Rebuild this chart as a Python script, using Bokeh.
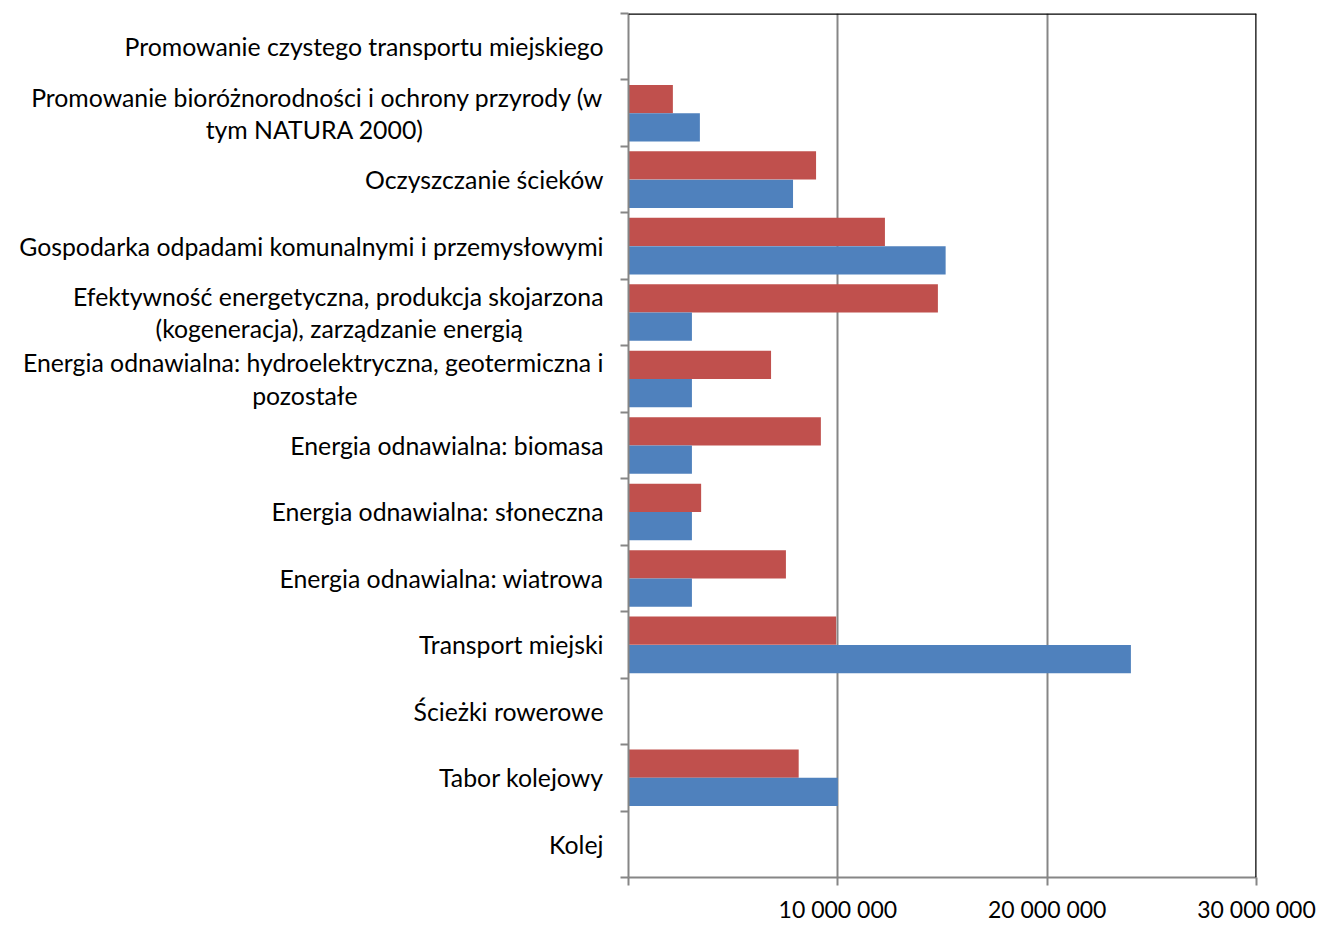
from bokeh.plotting import figure
from bokeh.models import Range1d, FixedTicker, Span, ColumnDataSource
from bokeh.embed import file_html
from bokeh.resources import INLINE

# Categories listed bottom -> top (as in the chart)
categories = [
    "Kolej",
    "Tabor kolejowy",
    "Ścieżki rowerowe",
    "Transport miejski",
    "Energia odnawialna: wiatrowa",
    "Energia odnawialna: słoneczna",
    "Energia odnawialna: biomasa",
    "Energia odnawialna: hydroelektryczna, geotermiczna i\npozostałe",
    "Efektywność energetyczna, produkcja skojarzona\n(kogeneracja), zarządzanie energią",
    "Gospodarka odpadami komunalnymi i przemysłowymi",
    "Oczyszczanie ścieków",
    "Promowanie bioróżnorodności i ochrony przyrody (w\ntym NATURA 2000)",
    "Promowanie czystego transportu miejskiego",
]
red_values = [0, 8.13e6, 0, 9.92e6, 7.52e6, 3.47e6, 9.19e6, 6.81e6, 14.78e6, 12.25e6, 8.96e6, 2.12e6, 0]
blue_values = [0, 10.0e6, 0, 24.0e6, 3.03e6, 3.03e6, 3.03e6, 3.03e6, 3.03e6, 15.15e6, 7.86e6, 3.41e6, 0]
x_ticks = [0, 10_000_000, 20_000_000, 30_000_000]
x_tick_labels = ["", "10 000 000", "20 000 000", "30 000 000"]

FONT = "Lato"
FS_Y = "24.8px"
FS_X = "23px"
GRAY = "#868686"
RED = "#C0504D"
BLUE = "#4F81BD"

# layout helper: padding after the short second line of wrapped labels,
# so that the wrapped line appears centred under the first one
EM, QUARTER, SIXTH, EN = "\u2003", "\u2005", "\u2006", "\u2002"
pad_second_line = {
    7: EM * 12 + EN + QUARTER + SIXTH,
    8: EM * 4 + QUARTER,
    11: EM * 9 + EN,
}

def label_text(i, cat):
    if "\n" in cat and i in pad_second_line:
        return cat + pad_second_line[i]
    return cat

n = len(categories)
centers = [i + 0.5 for i in range(n)]
boundaries = list(range(n + 1))
BAR_H = 0.425
OFF = 0.213

src = ColumnDataSource(dict(
    y_red=[c + OFF for c in centers],
    y_blue=[c - OFF for c in centers],
    red=red_values,
    blue=blue_values,
))

p = figure(width=1319, height=925, output_backend="svg", toolbar_location=None,
           x_range=Range1d(0, 30_000_000), y_range=Range1d(0, n),
           min_border_left=628, min_border_right=63, min_border_top=13, min_border_bottom=45)
p.outline_line_color = None
p.background_fill_color = "white"
p.border_fill_color = "white"

p.hbar(y="y_red", right="red", left=0, height=BAR_H, source=src, fill_color=RED, line_color=None)
p.hbar(y="y_blue", right="blue", left=0, height=BAR_H, source=src, fill_color=BLUE, line_color=None)

# x axis
xa = p.xaxis[0]
xa.ticker = FixedTicker(ticks=x_ticks)
xa.major_label_overrides = {t: l for t, l in zip(x_ticks, x_tick_labels)}
xa.axis_line_color = GRAY
xa.axis_line_width = 2
xa.major_tick_line_color = GRAY
xa.major_tick_line_width = 2
xa.major_tick_out = 8
xa.major_tick_in = 0
xa.minor_tick_line_color = None
xa.major_label_standoff = 9
xa.major_label_text_font = FONT
xa.major_label_text_font_size = FS_X
xa.major_label_text_color = "black"

# y axis: labels at category centres, tick marks (minor) at category boundaries
ya = p.yaxis[0]
ya.ticker = FixedTicker(ticks=centers, minor_ticks=boundaries)
ya.major_label_overrides = {c: label_text(i, cat) for i, (c, cat) in enumerate(zip(centers, categories))}
ya.major_label_text_font = FONT
ya.major_label_text_font_size = FS_Y
ya.major_label_text_color = "black"
ya.major_label_text_line_height = 1.11
ya.major_label_standoff = 17
ya.axis_line_color = GRAY
ya.axis_line_width = 2
ya.major_tick_line_color = None
ya.major_tick_out = 0
ya.major_tick_in = 0
ya.minor_tick_line_color = GRAY
ya.minor_tick_line_width = 2
ya.minor_tick_out = 8
ya.minor_tick_in = 0

p.xgrid.ticker = FixedTicker(ticks=[10_000_000, 20_000_000])
p.xgrid.grid_line_color = GRAY
p.xgrid.grid_line_width = 2
p.ygrid.grid_line_color = None

# top and right border of the plot area
p.add_layout(Span(location=n, dimension="width", line_color="black", line_width=2.5))
p.add_layout(Span(location=30_000_000, dimension="height", line_color="black", line_width=2.5))

open("out.html", "w").write(file_html(p, INLINE))
